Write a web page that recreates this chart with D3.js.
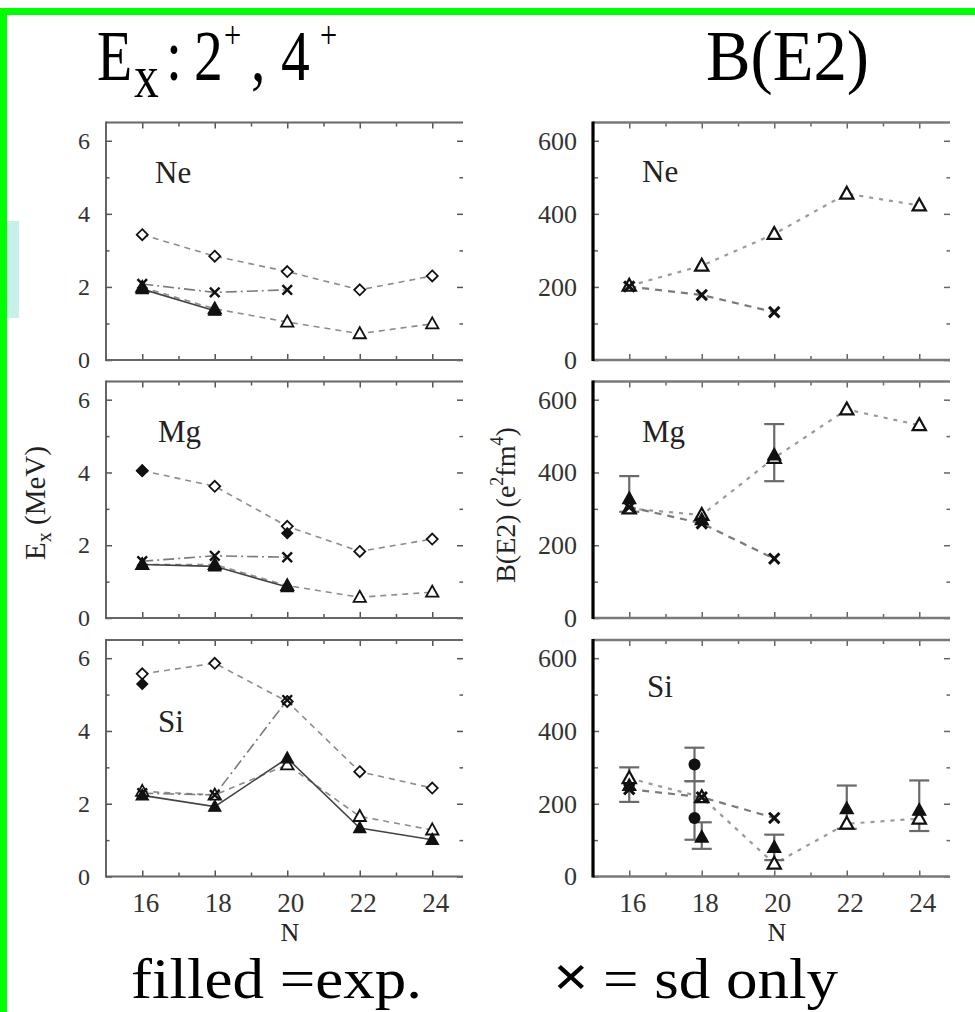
<!DOCTYPE html>
<html><head><meta charset="utf-8">
<script src="https://cdn.jsdelivr.net/npm/d3@7"></script>
<style>
body{margin:0;background:#fff}
svg{display:block}
text{font-family:"Liberation Serif","Times New Roman",serif}
</style>
</head><body>
<svg id="c" width="975" height="1012"></svg>
<script>
// ---------- data ----------
const N = [16, 18, 20, 22, 24];
const nTicks = [16, 18, 20, 22, 24];
const nMinor = [17, 19, 21, 23];
const nuclei = ["Ne", "Mg", "Si"];
const exTicks = [0, 2, 4, 6];
const exMinor = [1, 3, 5];
const be2Ticks = [0, 200, 400, 600];
const be2Minor = [100, 300, 500];

// Excitation energies (MeV), rows: Ne, Mg, Si
const ex4Calc = [[3.43, 2.84, 2.42, 1.92, 2.30], [4.05, 3.62, 2.52, 1.83, 2.17], [5.57, 5.86, 4.81, 2.88, 2.43]];
const ex2Calc = [[1.99, 1.40, 1.04, 0.72, 0.99], [1.47, 1.47, 0.89, 0.57, 0.71], [2.34, 2.24, 3.07, 1.65, 1.28]];
const ex2Sd   = [[2.08, 1.85, 1.92], [1.56, 1.71, 1.67], [2.29, 2.24, 4.85]];
const ex2Exp  = [[1.94, 1.35], [1.47, 1.42, 0.85], [2.23, 1.92, 3.25, 1.33, 1.01]];
const ex4Exp  = [[], [4.05, null, 2.33], [5.29]];

// B(E2) (e^2 fm^4)
const be2Calc  = [[203, 258, 345, 455, 423], [301, 283, 440, 573, 530], [270, 218, 35, 145, 159]];
const be2Sd    = [[201, 178, 131], [305, 260, 163], [240, 218, 161]];
const be2Exp   = [[], [328, 270, 448], [250, 108, 80, 186, 182]];
const be2ExpLo = [[], [292, null, 376], [205, 76, 45, 131, 125]];
const be2ExpHi = [[], [390, null, 533], [300, 149, 115, 250, 264]];
// Si extra experimental points (circles) near N=18
const siAltN  = [17.8, 17.8];
const siAlt   = [308, 161];
const siAltLo = [262, 101];
const siAltHi = [354, 262];

// ---------- layout ----------
const svg = d3.select("#c");
const rows = [{top: 122.5, bot: 360}, {top: 381.5, bot: 618}, {top: 640, bot: 876.5}];
const cols = [{x0: 106, xEnd: 463}, {x0: 593, xEnd: 950}];
const UNIT = 36.25;

// green frame & cyan strip
svg.append("rect").attr("x", 0).attr("y", 8).attr("width", 975).attr("height", 7).attr("fill", "#00ff00");
svg.append("rect").attr("x", 0).attr("y", 8).attr("width", 7).attr("height", 1004).attr("fill", "#00ff00");
svg.append("rect").attr("x", 7).attr("y", 221).attr("width", 12).attr("height", 97).attr("fill", "#c8f0ea");

function tri(x, y, r) { return `M${x},${y - r}L${x + r * 0.95},${y + r * 0.7}L${x - r * 0.95},${y + r * 0.7}Z`; }
function dia(x, y, r) { return `M${x},${y - r}L${x + r},${y}L${x},${y + r}L${x - r},${y}Z`; }
function crs(x, y, r) { return `M${x - r},${y - r}L${x + r},${y + r}M${x - r},${y + r}L${x + r},${y - r}`; }

function styleAxis(s, col, w, fs, fill) {
  s.select(".domain").remove();
  s.selectAll("line").attr("stroke", col).attr("stroke-width", w);
  s.selectAll("text").attr("font-family", "Liberation Serif").attr("font-size", fs).attr("fill", fill);
}

function drawPanel(ci, ri) {
  const left = ci === 0;
  const {x0, xEnd} = cols[ci];
  const {top, bot} = rows[ri];
  const x = d3.scaleLinear().domain([15, 25]).range([x0, x0 + 10 * UNIT]);
  const y = d3.scaleLinear().domain([0, left ? 6.5 : 650]).range([bot, top]);
  const g = svg.append("g");
  const tickCol = left ? "#555" : "#666";
  const majY = left ? exTicks : be2Ticks, minY = left ? exMinor : be2Minor;
  const fsY = left ? 24 : 26;

  g.append("g").attr("transform", `translate(${x0},0)`)
    .call(d3.axisLeft(y).tickValues(majY).tickSize(-6).tickPadding(16).tickFormat(d3.format("d")))
    .call(s => styleAxis(s, tickCol, 1.5, fsY, "#333"));
  g.append("g").attr("transform", `translate(${x0},0)`)
    .call(d3.axisLeft(y).tickValues(minY).tickSize(left ? -3.5 : -5).tickFormat(""))
    .call(s => styleAxis(s, tickCol, 1.5, fsY, "#333"));
  g.append("g").attr("transform", `translate(${xEnd},0)`)
    .call(d3.axisRight(y).tickValues(majY).tickSize(-6).tickFormat(""))
    .call(s => styleAxis(s, tickCol, 1.5, fsY, "#333"));
  g.append("g").attr("transform", `translate(${xEnd},0)`)
    .call(d3.axisRight(y).tickValues(minY).tickSize(-3.5).tickFormat(""))
    .call(s => styleAxis(s, tickCol, 1.5, fsY, "#333"));
  g.append("g").attr("transform", `translate(0,${top})`)
    .call(d3.axisTop(x).tickValues(nTicks).tickSize(-6).tickFormat(""))
    .call(s => styleAxis(s, tickCol, 1.5, 27, "#333"));
  g.append("g").attr("transform", `translate(0,${top})`)
    .call(d3.axisTop(x).tickValues(nMinor).tickSize(-4).tickFormat(""))
    .call(s => styleAxis(s, tickCol, 1.5, 27, "#333"));
  const bAx = d3.axisBottom(x).tickValues(nTicks).tickSize(-6).tickPadding(16.5);
  if (ri !== 2) bAx.tickFormat("");
  g.append("g").attr("transform", `translate(0,${bot})`)
    .call(bAx)
    .call(s => styleAxis(s, tickCol, 1.5, 27, "#333"))
    .call(s => s.selectAll("text").attr("dx", 3));
  g.append("g").attr("transform", `translate(0,${bot})`)
    .call(d3.axisBottom(x).tickValues(nMinor).tickSize(-4).tickFormat(""))
    .call(s => styleAxis(s, tickCol, 1.5, 27, "#333"));

  const fc = left ? "#666" : "#7a7a7a", fw = left ? 1.8 : 2.6;
  g.append("line").attr("x1", x0).attr("x2", xEnd).attr("y1", top).attr("y2", top).attr("stroke", fc).attr("stroke-width", fw);
  g.append("line").attr("x1", x0).attr("x2", xEnd).attr("y1", bot).attr("y2", bot).attr("stroke", fc).attr("stroke-width", fw);
  g.append("line").attr("x1", x0).attr("x2", x0).attr("y1", top - 1).attr("y2", bot + 1)
    .attr("stroke", left ? "#555" : "#000").attr("stroke-width", left ? 1.8 : 3.2);

  const lab = left ? [[155, 183], [158, 442], [158, 732]][ri] : [[642, 182], [642, 442], [647, 697]][ri];
  g.append("text").attr("x", lab[0]).attr("y", lab[1]).attr("font-size", 31).attr("fill", "#222").text(nuclei[ri]);

  const pts = (vals, ns) => vals.map((v, i) => ({n: ns ? ns[i] : N[i], v})).filter(d => d.v != null);
  const line = d3.line().x(d => x(d.n)).y(d => y(d.v));
  function path(data, dash, col, w) {
    if (data.length < 2) return;
    g.append("path").attr("d", line(data)).attr("fill", "none").attr("stroke", col)
      .attr("stroke-width", w).attr("stroke-dasharray", dash);
  }
  function marks(data, shape, r, filled, sw) {
    g.selectAll(null).data(data).enter().append("path")
      .attr("d", d => shape(x(d.n), y(d.v), r))
      .attr("fill", shape === crs ? "none" : (filled ? "#111" : "#fff"))
      .attr("stroke", "#111").attr("stroke-width", sw);
  }
  function errs(lo, hi, ns) {
    const e = (ns ? ns : N).map((n, i) => ({n, lo: lo[i], hi: hi[i]})).filter(d => d.lo != null && d.hi != null);
    const eg = g.selectAll(null).data(e).enter().append("g").attr("stroke", "#6a6a6a").attr("stroke-width", 2.2);
    eg.append("line").attr("x1", d => x(d.n)).attr("x2", d => x(d.n)).attr("y1", d => y(d.lo)).attr("y2", d => y(d.hi));
    eg.append("line").attr("x1", d => x(d.n) - 10).attr("x2", d => x(d.n) + 10).attr("y1", d => y(d.lo)).attr("y2", d => y(d.lo));
    eg.append("line").attr("x1", d => x(d.n) - 10).attr("x2", d => x(d.n) + 10).attr("y1", d => y(d.hi)).attr("y2", d => y(d.hi));
  }

  if (left) {
    const c4 = pts(ex4Calc[ri]), c2 = pts(ex2Calc[ri]), sd = pts(ex2Sd[ri]), e2 = pts(ex2Exp[ri]), e4 = pts(ex4Exp[ri]);
    path(c4, "6,5", "#8c8c8c", 1.6);
    path(c2, "6,5", "#8c8c8c", 1.6);
    path(sd, "11,4,2,4", "#7a7a7a", 1.6);
    path(e2, null, "#444", 1.6);
    marks(c4, dia, 5.5, false, 1.8);
    marks(c2, tri, 6.5, false, 1.8);
    marks(sd, crs, 4.8, false, 2.4);
    marks(e2, tri, 6.5, true, 1.2);
    marks(e4, dia, 5.5, true, 1.2);
  } else {
    const c = pts(be2Calc[ri]), sd = pts(be2Sd[ri]), ex = pts(be2Exp[ri]);
    path(c, "4,6", "#9a9a9a", 2.2);
    path(sd, "7,6", "#7a7a7a", 2.2);
    errs(be2ExpLo[ri], be2ExpHi[ri]);
    if (ri === 2) errs(siAltLo, siAltHi, siAltN);
    marks(c, tri, 7, false, 2.2);
    marks(sd, crs, 5.2, false, 3);
    marks(ex, tri, 7, true, 1.2);
    if (ri === 2) {
      g.selectAll(null).data(pts(siAlt, siAltN)).enter().append("circle")
        .attr("cx", d => x(d.n)).attr("cy", d => y(d.v)).attr("r", 6).attr("fill", "#111");
    }
  }
}

for (let ri = 0; ri < 3; ri++) for (let ci = 0; ci < 2; ci++) drawPanel(ci, ri);

// ---------- axis titles ----------
const yl = svg.append("text").attr("transform", "translate(45,503) rotate(-90)")
  .attr("text-anchor", "middle").attr("font-size", 29).attr("fill", "#222");
yl.append("tspan").text("E");
yl.append("tspan").attr("font-size", 20).attr("dy", 6).text("x");
yl.append("tspan").attr("dy", -6).text(" (MeV)");

const yr = svg.append("text").attr("transform", "translate(515,505) rotate(-90)")
  .attr("text-anchor", "middle").attr("font-size", 28).attr("fill", "#222");
yr.append("tspan").text("B(E2) (e");
yr.append("tspan").attr("font-size", 18).attr("dy", -12).text("2");
yr.append("tspan").attr("dy", 12).text("fm");
yr.append("tspan").attr("font-size", 18).attr("dy", -12).text("4");
yr.append("tspan").attr("dy", 12).text(")");

svg.append("text").attr("x", 290).attr("y", 941).attr("text-anchor", "middle").attr("font-size", 26).attr("fill", "#222").text("N");
svg.append("text").attr("x", 777).attr("y", 941).attr("text-anchor", "middle").attr("font-size", 26).attr("fill", "#222").text("N");

// ---------- big titles ----------
const SX = 0.8;
const t1 = svg.append("text").attr("transform", `scale(${SX},1)`).attr("fill", "#000").attr("font-size", 72);
const parts = [
  {t: "E", x: 97, y: 80, fs: 72},
  {t: "x", x: 134, y: 97, fs: 62},
  {t: ":", x: 166, y: 80, fs: 72},
  {t: "2", x: 194, y: 80, fs: 72},
  {t: "+", x: 224, y: 48, fs: 38},
  {t: ",", x: 251, y: 80, fs: 72},
  {t: "4", x: 281, y: 80, fs: 72},
  {t: "+", x: 320, y: 48, fs: 38}
];
parts.forEach(p => t1.append("tspan").attr("x", p.x / SX).attr("y", p.y).attr("font-size", p.fs).text(p.t));

function piece(t, x, y, fs, len, fam, weight) {
  const e = svg.append("text").attr("x", x).attr("y", y).attr("font-size", fs).attr("fill", "#000")
    .attr("textLength", len).attr("lengthAdjust", "spacingAndGlyphs").text(t);
  if (fam) e.attr("font-family", fam);
  if (weight) e.attr("font-weight", weight);
  return e;
}
piece("B(E2)", 706, 80, 72, 163);
piece("filled =exp.", 131, 998, 57, 291);
piece("×", 553, 996, 58, 36, "Liberation Sans", "bold");
piece("= sd only", 603, 998, 57, 235);
</script>
</body></html>
